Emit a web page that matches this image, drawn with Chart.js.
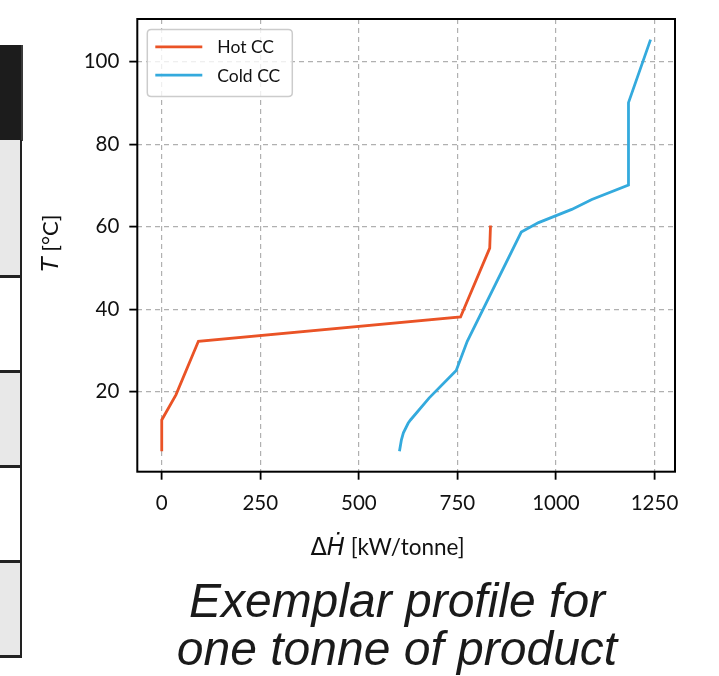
<!DOCTYPE html>
<html><head><meta charset="utf-8">
<script src="https://cdn.jsdelivr.net/npm/chart.js@4.4.1/dist/chart.umd.min.js"></script>
<style>
html,body{margin:0;padding:0;background:#fff;}
body{width:719px;height:676px;position:relative;overflow:hidden;}
#c{position:absolute;left:0;top:0;}
.blk{position:absolute;}
#caption{position:absolute;left:97px;top:576.5px;width:600px;text-align:center;font:italic 48px/48px "Liberation Sans",Arial,sans-serif;color:#1a1a1a;white-space:nowrap;}
</style></head><body>
<div id="table"></div>
<canvas id="c" width="719" height="676"></canvas>
<div id="caption">Exemplar profile for<br>one tonne of product</div>
<script>
// ---- data ----
const seriesLabels = ['Hot CC', 'Cold CC'];
const hotDeltaH = [0, 0, 36, 93, 758, 832, 834];
const hotT = [5.5, 13.1, 19.2, 32.2, 38.1, 54.8, 60.3];
const coldDeltaH = [603, 608, 613, 625, 631, 678, 747, 775, 912, 956, 1040, 1091, 1184, 1184, 1240];
const coldT = [5.5, 8.3, 10, 12.3, 13.1, 18.4, 25.1, 32.2, 58.7, 61, 64.2, 66.6, 70.1, 90.1, 105.4];
const xTickValues = [0, 250, 500, 750, 1000, 1250];
const yTickValues = [20, 40, 60, 80, 100];

// ---- table fragment on the left ----
(function(){
  const t = document.getElementById('table');
  const add = (l,tp,w,h,bg)=>{const d=document.createElement('div');d.className='blk';
    d.style.cssText=`left:${l}px;top:${tp}px;width:${w}px;height:${h}px;background:${bg}`;t.appendChild(d);};
  add(0,45,22,96,'#1c1c1c');
  add(20.5,45,2,96,'#3a3a3a');
  const rows=[[140,276,'#e8e8e8'],[276,371,'#ffffff'],[371,466,'#e8e8e8'],[466,561,'#ffffff'],[561,656,'#e8e8e8']];
  rows.forEach(r=>add(0,r[0],20,r[1]-r[0],r[2]));
  [275,370,465,560,655].forEach(y=>add(0,y,22,2.5,'#222'));
  add(19.5,140,2.7,517.5,'#222');
})();

const pts = (xs, ys) => xs.map((x,i)=>({x, y: ys[i]}));
const hotColor = '#EA5326', coldColor = '#34AADD';

const framePlugin = {
  id:'frameLegendTitles',
  afterDraw(chart){
    const {ctx, chartArea:a} = chart;
    ctx.save();
    // frame
    ctx.strokeStyle='#000'; ctx.lineWidth=2;
    ctx.strokeRect(a.left, a.top, a.right-a.left, a.bottom-a.top);
    // legend
    const lx=a.left+10, ly=a.top+10.5, lw=145, lh=67, r=4;
    ctx.beginPath();
    ctx.moveTo(lx+r,ly); ctx.lineTo(lx+lw-r,ly); ctx.quadraticCurveTo(lx+lw,ly,lx+lw,ly+r);
    ctx.lineTo(lx+lw,ly+lh-r); ctx.quadraticCurveTo(lx+lw,ly+lh,lx+lw-r,ly+lh);
    ctx.lineTo(lx+r,ly+lh); ctx.quadraticCurveTo(lx,ly+lh,lx,ly+lh-r);
    ctx.lineTo(lx,ly+r); ctx.quadraticCurveTo(lx,ly,lx+r,ly); ctx.closePath();
    ctx.fillStyle='rgba(255,255,255,0.8)'; ctx.fill();
    ctx.strokeStyle='#cccccc'; ctx.lineWidth=1.5; ctx.stroke();
    chart.data.datasets.forEach((ds,i)=>{
      const y = ly + 17.3 + i*28.4;
      ctx.beginPath(); ctx.moveTo(lx+8,y); ctx.lineTo(lx+55,y);
      ctx.strokeStyle=ds.borderColor; ctx.lineWidth=2.8; ctx.stroke();
      ctx.fillStyle='#111'; ctx.font='17.5px Lato'; ctx.textBaseline='middle'; ctx.textAlign='left';
      ctx.fillText(ds.label, lx+70, y+1);
    });
    // x title: ΔḢ [kW/tonne]
    ctx.textBaseline='alphabetic'; ctx.textAlign='left'; ctx.fillStyle='#111';
    const parts=[['Δ','24px "DejaVu Sans"'],['Ḣ','italic 24px "DejaVu Sans"'],[' [kW/tonne]','22.5px Lato']];
    let tot=0; parts.forEach(p=>{ctx.font=p[1]; tot+=ctx.measureText(p[0]).width;});
    let x = 387.5 - tot/2;
    parts.forEach(p=>{ctx.font=p[1]; ctx.fillText(p[0], x, 555); x+=ctx.measureText(p[0]).width;});
    // y title: T [°C]
    ctx.save(); ctx.translate(50, 243); ctx.rotate(-Math.PI/2);
    const yp=[['T','italic 23px "DejaVu Sans"'],[' [°C]','22px Lato']];
    let ty=0; yp.forEach(p=>{ctx.font=p[1]; ty+=ctx.measureText(p[0]).width;});
    let xx=-ty/2;
    yp.forEach(p=>{ctx.font=p[1]; ctx.fillText(p[0], xx, 8); xx+=ctx.measureText(p[0]).width;});
    ctx.restore();
    ctx.restore();
  }
};

const gridCommon = {color:'#b0b0b0', lineWidth:1.2, tickColor:'#000', tickWidth:1.8, tickLength:8, tickBorderDash:[], drawTicks:true};
const fmt = v => String(v);
new Chart(document.getElementById('c'), {
  type:'scatter',
  data:{datasets:[
    {label:seriesLabels[0], data:pts(hotDeltaH, hotT), showLine:true, borderColor:hotColor, backgroundColor:hotColor, borderWidth:2.8, pointRadius:0, tension:0},
    {label:seriesLabels[1], data:pts(coldDeltaH, coldT), showLine:true, borderColor:coldColor, backgroundColor:coldColor, borderWidth:2.8, pointRadius:0, tension:0}
  ]},
  options:{
    responsive:false, animation:false, devicePixelRatio:1,
    layout:{padding:{left:0, top:19, right:44, bottom:124.3}},
    plugins:{legend:{display:false}, tooltip:{enabled:false}},
    scales:{
      x:{type:'linear', min:-62, max:1302,
        afterBuildTicks:s=>{s.ticks=xTickValues.map(v=>({value:v}));},
        afterFit:s=>{s.height=80; s.paddingLeft=0; s.paddingRight=0;},
        grid:gridCommon, border:{display:false, dash:[5,4]},
        ticks:{color:'#111', font:{family:'Lato', size:20.5}, padding:11, maxRotation:0, autoSkip:false, callback:fmt}},
      y:{type:'linear', min:0.55, max:110.4,
        afterBuildTicks:s=>{s.ticks=yTickValues.map(v=>({value:v}));},
        afterFit:s=>{s.width=137.3; s.paddingTop=0; s.paddingBottom=0;},
        grid:gridCommon, border:{display:false, dash:[5,4]},
        ticks:{color:'#111', font:{family:'Lato', size:20.5}, padding:10, autoSkip:false, callback:fmt}}
    }
  },
  plugins:[framePlugin]
});
</script>
</body></html>
